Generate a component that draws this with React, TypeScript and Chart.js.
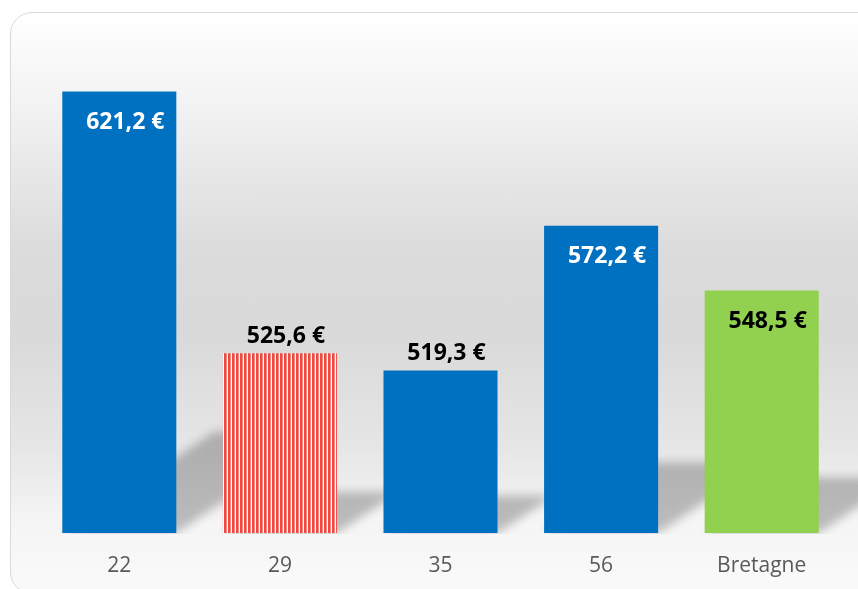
import React, { useEffect, useRef } from "react";
import { Chart, registerables } from "chart.js";

Chart.register(...registerables);

const categories = ["22", "29", "35", "56", "Bretagne"];
const values = [621.2, 525.6, 519.3, 572.2, 548.5];
const labelInside = [true, false, false, true, true];
const labelColors = ["#ffffff", "#000000", "#000000", "#ffffff", "#000000"];
const yMin = 460;
const yMax = 640;
const barPct = 0.71;

function makeStripePattern(): CanvasPattern | string {
  const c = document.createElement("canvas");
  c.width = 4;
  c.height = 4;
  const g = c.getContext("2d");
  if (!g) return "#ee4a42";
  g.fillStyle = "#ffffff";
  g.fillRect(0, 0, 4, 4);
  g.fillStyle = "#ee4a42";
  g.fillRect(0, 0, 2, 4);
  g.fillStyle = "#f58a84";
  g.fillRect(2, 0, 1, 4);
  const p = g.createPattern(c, "repeat");
  return p || "#ee4a42";
}

const OFF = 3000;

const decorPlugin = {
  id: "decor",
  afterDatasetsDraw(chart: any) {
    const ctx = chart.ctx as CanvasRenderingContext2D;
    const xs = chart.scales.x;
    const ys = chart.scales.y;
    const baseY = ys.getPixelForValue(yMin);
    const barW = (xs.width / categories.length) * barPct;

    // perspective shadows, drawn behind the bars
    ctx.save();
    ctx.globalCompositeOperation = "destination-over";
    ctx.beginPath();
    ctx.rect(0, 0, chart.width, baseY + 1);
    ctx.clip();
    ctx.shadowColor = "rgba(0,0,0,0.24)";
    ctx.shadowBlur = 10;
    ctx.shadowOffsetX = OFF;
    ctx.shadowOffsetY = 0;
    ctx.fillStyle = "#000000";
    values.forEach((v, i) => {
      const cx = xs.getPixelForValue(i);
      const top = ys.getPixelForValue(v);
      const x0 = cx - barW / 2 - OFF;
      const x1 = cx + barW / 2 - OFF;
      const h = baseY - top;
      const sh = 0.23 * h;
      const dx = 1.5 * sh;
      ctx.beginPath();
      ctx.moveTo(x0, baseY);
      ctx.lineTo(x1, baseY);
      ctx.lineTo(x1 + dx, baseY - sh);
      ctx.lineTo(x0 + dx, baseY - sh);
      ctx.closePath();
      ctx.fill();
    });
    ctx.restore();

    // value labels
    ctx.save();
    ctx.font = "bold 23px 'Open Sans'";
    ctx.textAlign = "center";
    ctx.textBaseline = "middle";
    values.forEach((v, i) => {
      const cx = xs.getPixelForValue(i);
      const top = ys.getPixelForValue(v);
      const text = v.toFixed(1).replace(".", ",") + " €";
      const y = labelInside[i] ? top + 31 : top - 17;
      ctx.fillStyle = labelColors[i];
      ctx.fillText(text, cx + 6, y);
    });
    ctx.restore();
  },
};

export default function App() {
  const ref = useRef<HTMLCanvasElement>(null);

  useEffect(() => {
    if (!ref.current) return;
    const stripe = makeStripePattern();
    const chart = new Chart(ref.current, {
      type: "bar",
      data: {
        labels: categories,
        datasets: [
          {
            data: values,
            backgroundColor: ["#0070c0", stripe as any, "#0070c0", "#0070c0", "#92d050"],
            borderWidth: 0,
            categoryPercentage: 1,
            barPercentage: barPct,
          },
        ],
      },
      options: {
        responsive: false,
        animation: false,
        devicePixelRatio: 1,
        layout: { padding: { left: 39, right: 16, top: 40, bottom: 0 } },
        plugins: {
          legend: { display: false },
          tooltip: { enabled: false },
          title: { display: false },
        },
        scales: {
          y: { display: false, min: yMin, max: yMax },
          x: {
            grid: { display: false },
            border: { display: false },
            afterFit: (scale: any) => {
              scale.height = 56;
            },
            ticks: {
              color: "#595959",
              padding: 12,
              font: { family: "'Open Sans'", size: 21 },
            },
          },
        },
      },
      plugins: [decorPlugin],
    });
    return () => chart.destroy();
  }, []);

  return (
    <div
      style={{
        position: "fixed",
        left: 0,
        top: 0,
        width: 858,
        height: 589,
        overflow: "hidden",
        background: "#ffffff",
      }}
    >
      <div
        style={{
          position: "absolute",
          left: 10,
          top: 12,
          width: 880,
          height: 582,
          boxSizing: "border-box",
          border: "1.5px solid #d9d9d9",
          borderRadius: 22,
          background:
            "linear-gradient(to bottom, #ffffff 0%, #f3f3f3 15%, #dcdcdc 40%, #d9d9d9 55%, #e6e6e6 75%, #f5f5f5 88%, #fafafa 100%)",
        }}
      />
      <canvas
        ref={ref}
        width={858}
        height={589}
        style={{ position: "absolute", left: 0, top: 0, width: 858, height: 589 }}
      />
    </div>
  );
}
